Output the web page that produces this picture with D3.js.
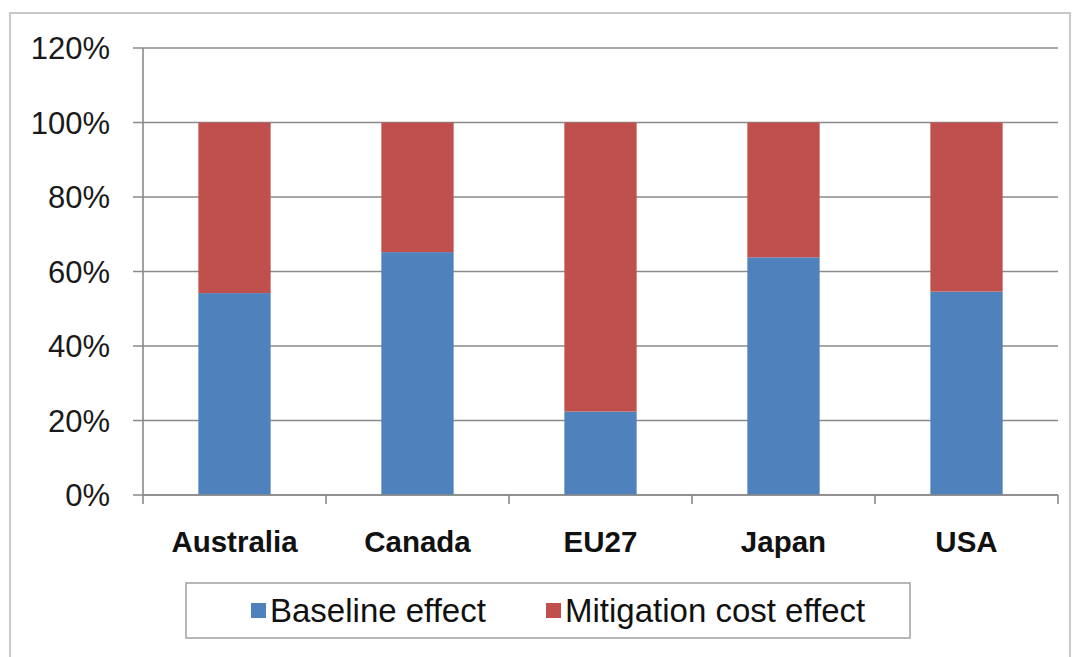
<!DOCTYPE html>
<html><head><meta charset="utf-8">
<script src="https://cdn.jsdelivr.net/npm/d3@7"></script>
<style>body{margin:0;background:#fff}svg{display:block}</style>
</head><body>
<script>
const categories = ["Australia","Canada","EU27","Japan","USA"];
const baseline = [54.2, 65.2, 22.4, 63.8, 54.6];
const mitigation = [45.8, 34.8, 77.6, 36.2, 45.4];
const seriesNames = ["Baseline effect","Mitigation cost effect"];
const seriesColors = ["#4F81BD","#C0504D"];
const yTicks = [0,20,40,60,80,100,120];

const W = 1079, H = 657;
const svg = d3.select("body").append("svg").attr("width",W).attr("height",H);

// outer chart border
svg.append("rect").attr("x",10).attr("y",13).attr("width",1060).attr("height",660)
  .attr("fill","#fff").attr("stroke","#c8c8c8").attr("stroke-width",2);

const m = {left:143, right:1058, top:48, bottom:495};
const x = d3.scaleBand().domain(categories).range([m.left,m.right]).paddingInner(0).paddingOuter(0);
const y = d3.scaleLinear().domain([0,120]).range([m.bottom,m.top]);

// gridlines
svg.append("g").selectAll("line").data(yTicks).join("line")
  .attr("x1",m.left-10).attr("x2",m.right)
  .attr("y1",d=>y(d)).attr("y2",d=>y(d))
  .attr("stroke","#8a8a8a").attr("stroke-width",1.6);

// y axis line
svg.append("line").attr("x1",m.left).attr("x2",m.left).attr("y1",m.top).attr("y2",m.bottom+1)
  .attr("stroke","#8a8a8a").attr("stroke-width",1.6);

// y labels
svg.append("g").selectAll("text").data(yTicks).join("text")
  .attr("x",110).attr("y",d=>y(d)).attr("dy","0.36em")
  .attr("text-anchor","end")
  .attr("font-family","Liberation Sans, Arial, sans-serif").attr("font-size",31)
  .attr("fill","#1a1a1a").text(d=>d+"%");

// stacked bars
const stackData = categories.map((c,i)=>({cat:c, b:baseline[i], m:mitigation[i]}));
const stack = d3.stack().keys(["b","m"])(stackData);
const bw = x.bandwidth()*0.395;
svg.append("g").selectAll("g").data(stack).join("g")
  .attr("fill",(d,i)=>seriesColors[i])
  .selectAll("rect").data(d=>d).join("rect")
  .attr("x",d=>x(d.data.cat)+x.bandwidth()/2-bw/2)
  .attr("width",bw)
  .attr("y",d=>y(d[1]))
  .attr("height",d=>y(d[0])-y(d[1]));

// x axis line + ticks
svg.append("line").attr("x1",m.left).attr("x2",m.right).attr("y1",m.bottom).attr("y2",m.bottom)
  .attr("stroke","#8a8a8a").attr("stroke-width",1.6);
const bounds = categories.map(c=>x(c)).concat([m.right]);
svg.append("g").selectAll("line").data(bounds).join("line")
  .attr("x1",d=>d).attr("x2",d=>d).attr("y1",m.bottom).attr("y2",m.bottom+9)
  .attr("stroke","#8a8a8a").attr("stroke-width",1.6);

// x labels
svg.append("g").selectAll("text").data(categories).join("text")
  .attr("x",d=>x(d)+x.bandwidth()/2).attr("y",552)
  .attr("text-anchor","middle")
  .attr("font-family","Liberation Sans, Arial, sans-serif").attr("font-weight","bold").attr("font-size",29.5)
  .attr("fill","#111").text(d=>d);

// legend
const lg = svg.append("g");
lg.append("rect").attr("x",186).attr("y",583).attr("width",724).attr("height",55)
  .attr("fill","#fff").attr("stroke","#a0a0a0").attr("stroke-width",1.5);
const legX = [251, 546];
seriesNames.forEach((n,i)=>{
  lg.append("rect").attr("x",legX[i]).attr("y",603).attr("width",15).attr("height",15).attr("fill",seriesColors[i]);
  lg.append("text").attr("x",legX[i]+19).attr("y",622)
    .attr("font-family","Liberation Sans, Arial, sans-serif").attr("font-size",33)
    .attr("fill","#111").text(n);
});
</script>
</body></html>
